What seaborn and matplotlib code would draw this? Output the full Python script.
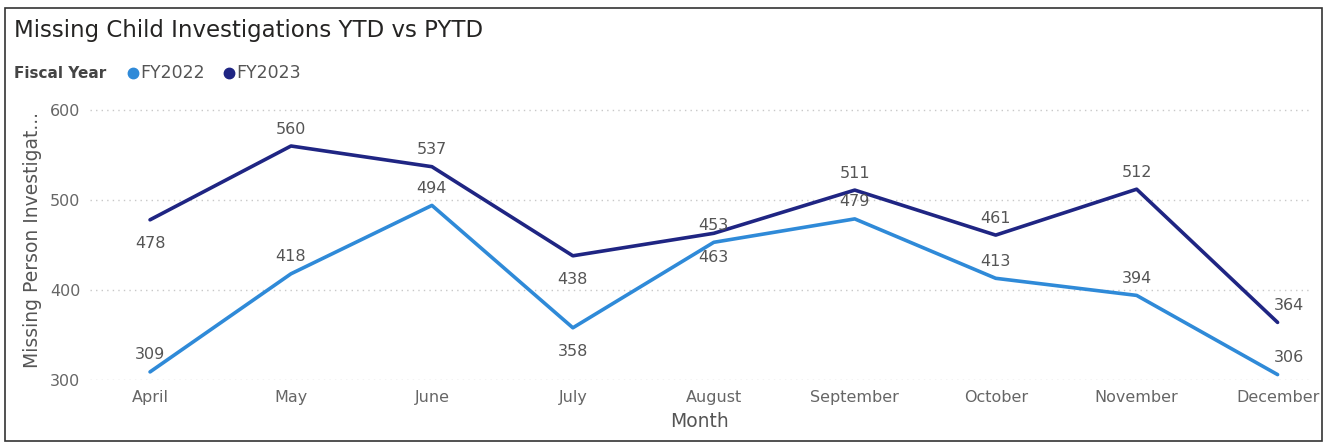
import matplotlib
matplotlib.use("Agg")
import matplotlib.pyplot as plt
import seaborn as sns
import pandas as pd
from matplotlib.patches import Rectangle
from matplotlib.lines import Line2D

months = ["April", "May", "June", "July", "August", "September", "October", "November", "December"]
fy2022 = [309, 418, 494, 358, 453, 479, 413, 394, 306]
fy2023 = [478, 560, 537, 438, 463, 511, 461, 512, 364]
# label placement: 1 = above, -1 = below
pos2022 = [1, 1, 1, -1, 1, 1, 1, 1, 1]
pos2023 = [-1, 1, 1, -1, -1, 1, 1, 1, 1]
series_names = ["FY2022", "FY2023"]
colors = {"FY2022": "#2F8AD8", "FY2023": "#1F2583"}

df = pd.DataFrame({
    "Month": months * 2,
    "idx": list(range(len(months))) * 2,
    "value": fy2022 + fy2023,
    "Fiscal Year": ["FY2022"] * len(months) + ["FY2023"] * len(months),
})

sns.set_style("white")
plt.rcParams["font.family"] = ["DejaVu Sans"]

fig = plt.figure(figsize=(13.28, 4.43), dpi=100)
W, H = 1328, 443
ax = fig.add_axes([90 / W, 1 - 380 / H, (1310 - 90) / W, (380 - 101) / H])

sns.lineplot(data=df, x="idx", y="value", hue="Fiscal Year", palette=colors,
             linewidth=2.6, ax=ax, legend=False, sort=False)

ax.set_xlim(-0.426, 8.23)
ax.set_ylim(300, 610)
ax.set_yticks([300, 400, 500, 600])
ax.set_xticks(range(len(months)))
ax.set_xticklabels(months)
for s in ax.spines.values():
    s.set_visible(False)
ax.grid(axis="y", color="#C8C8C8", linestyle=(0, (1, 3)), linewidth=1.0)
ax.grid(axis="x", visible=False)
ax.set_axisbelow(True)
ax.tick_params(axis="both", length=0, labelsize=11.5, colors="#666666")
ax.tick_params(axis="x", pad=7)
ax.tick_params(axis="y", pad=7)
ax.set_xlabel("Month", fontsize=13.5, color="#555555", labelpad=5)
ax.set_ylabel("Missing Person Investigat...", fontsize=13.5, color="#555555", labelpad=6)

last = len(months) - 1
for vals, poss in ((fy2022, pos2022), (fy2023, pos2023)):
    for i, (v, p) in enumerate(zip(vals, poss)):
        off = 17 if p > 0 else -24
        dx = 11 if i == last else 0
        ax.annotate(str(v), (i, v), textcoords="offset pixels", xytext=(dx, off),
                    ha="center", va="center", fontsize=11.5, color="#555555")

fig.text(14 / W, 1 - 31 / H, "Missing Child Investigations YTD vs PYTD",
         fontsize=16.5, color="#252423", ha="left", va="center")
fig.text(14 / W, 1 - 73 / H, "Fiscal Year", fontsize=11, fontweight="bold",
         color="#444444", ha="left", va="center")
xs = [133, 229]
for name, xm in zip(series_names, xs):
    fig.add_artist(Line2D([xm / W], [1 - 73 / H], marker="o", markersize=7.5,
                          color=colors[name], linestyle="none"))
    fig.text((xm + 7) / W, 1 - 73 / H, name, fontsize=12.5, color="#555555",
             ha="left", va="center")

fig.add_artist(Rectangle((5 / W, 1 - 441 / H), (1322 - 5) / W, (441 - 8) / H,
                         transform=fig.transFigure, fill=False,
                         edgecolor="#333333", linewidth=1.2))

fig.savefig("out.png", dpi=100)
